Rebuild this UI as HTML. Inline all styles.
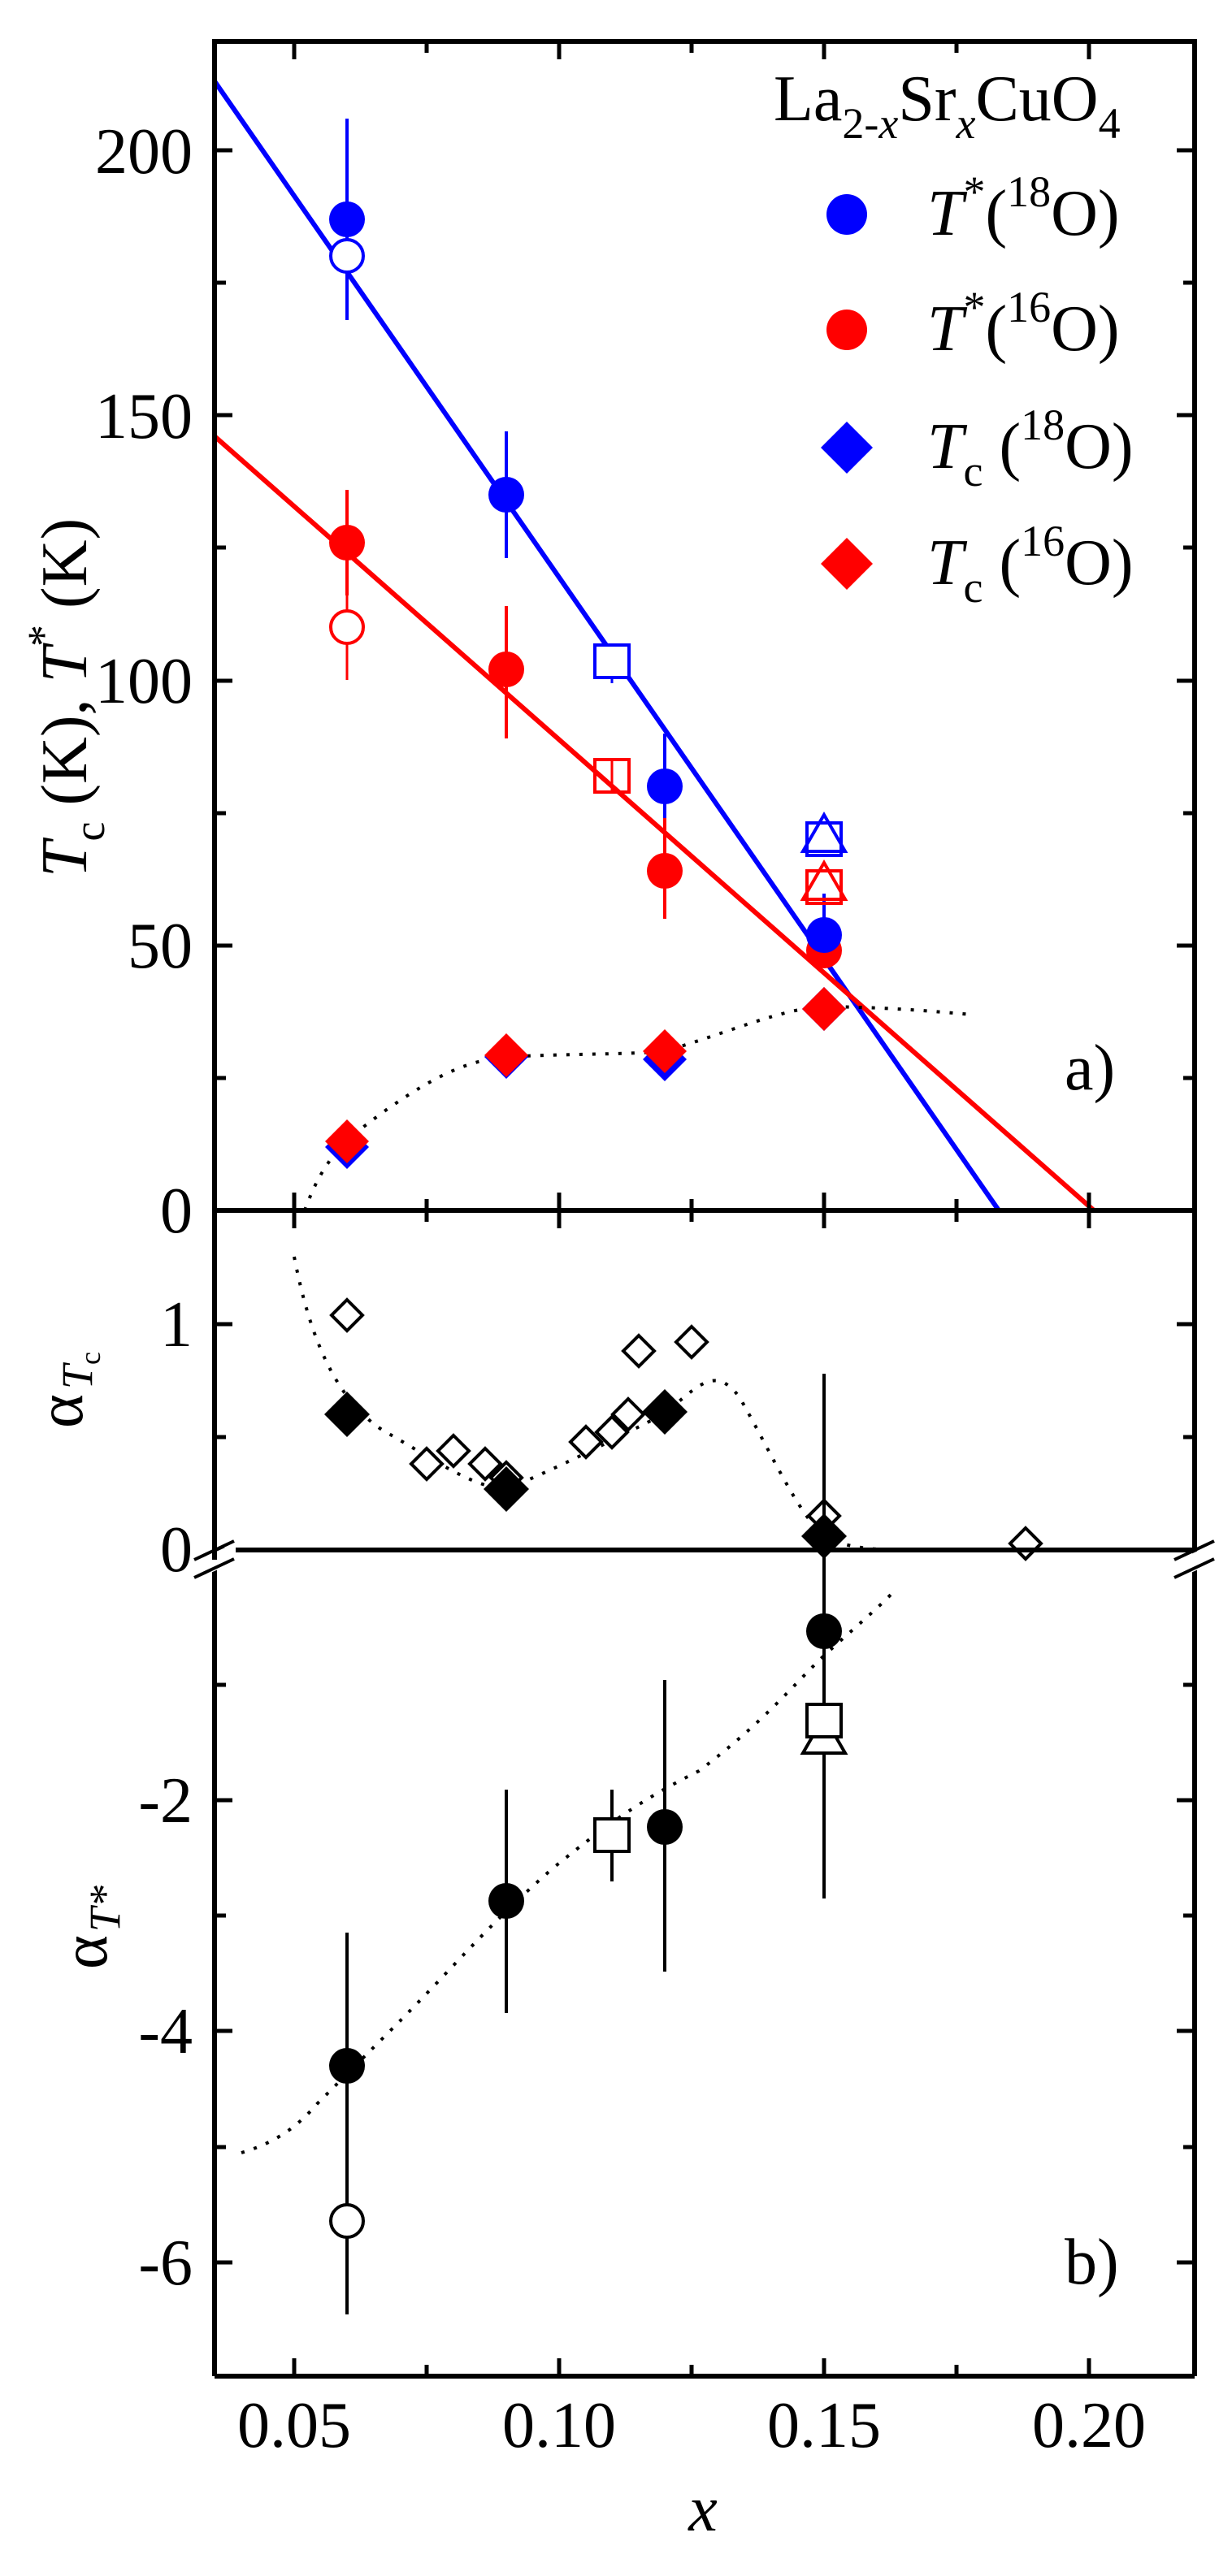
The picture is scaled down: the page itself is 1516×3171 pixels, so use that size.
<!DOCTYPE html>
<html><head><meta charset="utf-8"><style>
html,body{margin:0;padding:0;background:#fff}
svg{display:block}
text{font-family:"Liberation Serif","Times New Roman",serif;fill:#000}
</style></head><body>
<svg width="1516" height="3171" viewBox="0 0 1516 3171" xmlns="http://www.w3.org/2000/svg" font-family="Liberation Serif, Times New Roman, serif">
<defs>
<clipPath id="ca"><rect x="264" y="51" width="1206" height="1439"/></clipPath>
<clipPath id="cb"><rect x="264" y="1490" width="1206" height="418"/></clipPath>
<clipPath id="cc"><rect x="264" y="1925" width="1206" height="1000"/></clipPath>
</defs>

<!-- Panel a -->
<g clip-path="url(#ca)">
<line x1="264" y1="100" x2="1229" y2="1490" stroke="#0000ff" stroke-width="6"/>
<line x1="264" y1="537" x2="1346" y2="1490" stroke="#ff0000" stroke-width="6"/>
<path d="M375,1490 C400,1420 430,1400 470,1370 C540,1320 580,1305 623,1301 C700,1297 780,1298 818,1294 C900,1270 960,1242 1014,1239 C1100,1240 1160,1246 1197,1249" fill="none" stroke="#000" stroke-width="4" stroke-dasharray="4,12"/>
</g>
<g stroke-width="4" fill="none">
<line x1="427" y1="146" x2="427" y2="394" stroke="#0000ff"/>
<line x1="623" y1="531" x2="623" y2="687" stroke="#0000ff"/>
<line x1="818" y1="903" x2="818" y2="1040" stroke="#0000ff"/>
<line x1="427" y1="603" x2="427" y2="733" stroke="#ff0000"/>
<line x1="427" y1="733" x2="427" y2="837" stroke="#ff0000" stroke-width="3"/>
<line x1="623" y1="746" x2="623" y2="909" stroke="#ff0000"/>
<line x1="818" y1="1007" x2="818" y2="1131" stroke="#ff0000"/>
<line x1="1014" y1="1100" x2="1014" y2="1190" stroke="#0000ff"/>
</g>
<g fill="#0000ff">
<polygon points="427,1385 454,1412 427,1439 400,1412"/>
<polygon points="623,1274 650,1301 623,1328 596,1301"/>
<polygon points="818,1277 845,1304 818,1331 791,1304"/>
<polygon points="1014,1215 1041,1242 1014,1269 987,1242"/>
</g>
<g fill="#ff0000">
<polygon points="427,1378 454,1405 427,1432 400,1405"/>
<polygon points="623,1272 650,1299 623,1326 596,1299"/>
<polygon points="818,1267 845,1294 818,1321 791,1294"/>
<polygon points="1014,1215 1041,1242 1014,1269 987,1242"/>
</g>
<circle cx="427" cy="270" r="22" fill="#0000ff"/>
<circle cx="427" cy="315" r="20" fill="#fff" stroke="#0000ff" stroke-width="4"/>
<circle cx="623" cy="609" r="22" fill="#0000ff"/>
<circle cx="818" cy="968" r="22" fill="#0000ff"/>
<circle cx="427" cy="668" r="22" fill="#ff0000"/>
<circle cx="427" cy="772" r="20" fill="#fff" stroke="#ff0000" stroke-width="4"/>
<circle cx="623" cy="824" r="22" fill="#ff0000"/>
<circle cx="818" cy="1072" r="22" fill="#ff0000"/>
<circle cx="1014" cy="1170" r="22" fill="#ff0000"/>
<circle cx="1014" cy="1151" r="22" fill="#0000ff"/>
<rect x="732" y="794" width="42" height="40" fill="#fff" stroke="#0000ff" stroke-width="4"/>
<line x1="753" y1="834" x2="753" y2="841" stroke="#0000ff" stroke-width="3"/>
<rect x="732" y="935" width="42" height="40" fill="none" stroke="#ff0000" stroke-width="4"/>
<line x1="753" y1="935" x2="753" y2="975" stroke="#ff0000" stroke-width="3"/>
<rect x="993" y="1013" width="42" height="40" fill="none" stroke="#0000ff" stroke-width="4"/>
<polygon points="1014,1003 1040,1048 988,1048" fill="none" stroke="#0000ff" stroke-width="4"/>
<rect x="993" y="1072" width="42" height="40" fill="none" stroke="#ff0000" stroke-width="4"/>
<polygon points="1014,1062 1040,1107 988,1107" fill="none" stroke="#ff0000" stroke-width="4"/>

<!-- legend -->
<text x="952" y="148" font-size="80">La<tspan font-size="54" dy="22">2-</tspan><tspan font-size="54" font-style="italic">x</tspan><tspan dy="-22">Sr</tspan><tspan font-size="54" font-style="italic" dy="22">x</tspan><tspan dy="-22">CuO</tspan><tspan font-size="54" dy="22">4</tspan></text>
<circle cx="1042" cy="264" r="25" fill="#0000ff"/>
<circle cx="1042" cy="406" r="25" fill="#ff0000"/>
<polygon points="1042,519 1074,551 1042,583 1010,551" fill="#0000ff"/>
<polygon points="1042,662 1074,694 1042,726 1010,694" fill="#ff0000"/>
<text x="1141" y="289" font-size="80"><tspan font-style="italic">T</tspan><tspan font-size="54" dy="-35">*</tspan><tspan dy="35">(</tspan><tspan font-size="54" dy="-35">18</tspan><tspan dy="35">O)</tspan></text>
<text x="1141" y="431" font-size="80"><tspan font-style="italic">T</tspan><tspan font-size="54" dy="-35">*</tspan><tspan dy="35">(</tspan><tspan font-size="54" dy="-35">16</tspan><tspan dy="35">O)</tspan></text>
<text x="1141" y="576" font-size="80"><tspan font-style="italic">T</tspan><tspan font-size="54" dy="22">c</tspan><tspan dy="-22"> (</tspan><tspan font-size="54" dy="-35">18</tspan><tspan dy="35">O)</tspan></text>
<text x="1141" y="719" font-size="80"><tspan font-style="italic">T</tspan><tspan font-size="54" dy="22">c</tspan><tspan dy="-22"> (</tspan><tspan font-size="54" dy="-35">16</tspan><tspan dy="35">O)</tspan></text>
<text x="1310" y="1341" font-size="80">a)</text>

<text transform="translate(106,1080) rotate(-90)" font-size="80"><tspan font-style="italic">T</tspan><tspan font-size="54" dy="22">c</tspan><tspan dy="-22"> (K), </tspan><tspan font-style="italic">T</tspan><tspan font-size="54" dy="-35">*</tspan><tspan dy="35"> (K)</tspan></text>

<g font-size="80" text-anchor="end">
<text x="237" y="1517">0</text>
<text x="237" y="1191">50</text>
<text x="237" y="865">100</text>
<text x="237" y="539">150</text>
<text x="237" y="213">200</text>
</g>

<!-- Panel alpha Tc -->
<g clip-path="url(#cb)">
<path d="M362,1547 C380,1640 410,1720 470,1760 C540,1800 580,1830 623,1833 C680,1810 760,1770 818,1740 C860,1705 880,1680 910,1720 C950,1790 980,1860 1014,1891 C1040,1905 1070,1907 1100,1908 L1340,1908" fill="none" stroke="#000" stroke-width="4" stroke-dasharray="4,12"/>
</g>
<g fill="#fff" stroke="#000" stroke-width="4">
<polygon points="427,1600 446,1619 427,1638 408,1619"/>
<polygon points="525,1783 544,1802 525,1821 506,1802"/>
<polygon points="558,1767 577,1786 558,1805 539,1786"/>
<polygon points="597,1783 616,1802 597,1821 578,1802"/>
<polygon points="623,1800 642,1819 623,1838 604,1819"/>
<polygon points="721,1756 740,1775 721,1794 702,1775"/>
<polygon points="753,1744 772,1763 753,1782 734,1763"/>
<polygon points="773,1722 792,1741 773,1760 754,1741"/>
<polygon points="786,1644 805,1663 786,1682 767,1663"/>
<polygon points="851,1633 870,1652 851,1671 832,1652"/>
<polygon points="1014,1847 1033,1866 1014,1885 995,1866"/>
<polygon points="1262,1881 1281,1900 1262,1919 1243,1900"/>
</g>
<line x1="1014" y1="1691" x2="1014" y2="2337" stroke="#000" stroke-width="4"/>
<g fill="#000">
<polygon points="427,1713 455,1741 427,1769 399,1741"/>
<polygon points="623,1805 651,1833 623,1861 595,1833"/>
<polygon points="818,1710 846,1738 818,1766 790,1738"/>
<polygon points="1014,1863 1042,1891 1014,1919 986,1891"/>
</g>
<g font-size="80" text-anchor="end">
<text x="237" y="1934">0</text>
<text x="237" y="1657">1</text>
</g>
<text transform="translate(101,1758) rotate(-90)" font-size="80">α<tspan font-size="54" font-style="italic" dy="12" dx="6">T</tspan><tspan font-size="36" dy="10">c</tspan></text>

<!-- Panel b -->
<g clip-path="url(#cc)">
<path d="M297,2650 C330,2640 360,2625 390,2590 C420,2560 440,2540 480,2500 C560,2420 600,2370 680,2300 C760,2235 800,2210 860,2180 C940,2120 980,2070 1014,2038 C1050,2005 1080,1980 1099,1960" fill="none" stroke="#000" stroke-width="4" stroke-dasharray="4,12"/>
</g>
<g stroke="#000" stroke-width="4">
<line x1="427" y1="2379" x2="427" y2="2849"/>
<line x1="623" y1="2203" x2="623" y2="2478"/>
<line x1="753" y1="2203" x2="753" y2="2316"/>
<line x1="818" y1="2068" x2="818" y2="2427"/>
</g>
<circle cx="427" cy="2734" r="20" fill="#fff" stroke="#000" stroke-width="4"/>
<circle cx="427" cy="2543" r="22" fill="#000"/>
<circle cx="623" cy="2340" r="22" fill="#000"/>
<circle cx="818" cy="2249" r="22" fill="#000"/>
<circle cx="1014" cy="2008" r="22" fill="#000"/>
<rect x="732" y="2239" width="42" height="40" fill="#fff" stroke="#000" stroke-width="4"/>
<polygon points="1014,2113 1040,2158 988,2158" fill="#fff" stroke="#000" stroke-width="4"/>
<rect x="993" y="2098" width="42" height="40" fill="#fff" stroke="#000" stroke-width="4"/>
<g font-size="80" text-anchor="end">
<text x="237" y="2243">-2</text>
<text x="237" y="2527">-4</text>
<text x="237" y="2812">-6</text>
</g>
<text transform="translate(131,2424) rotate(-90)" font-size="80">α<tspan font-size="54" font-style="italic" dy="16" dx="4">T*</tspan></text>
<text x="1310" y="2811" font-size="80">b)</text>

<g font-size="80" text-anchor="middle">
<text x="362" y="3012">0.05</text>
<text x="688" y="3012">0.10</text>
<text x="1014" y="3012">0.15</text>
<text x="1340" y="3012">0.20</text>
</g>
<text x="865" y="3115" font-size="80" font-style="italic" text-anchor="middle">x</text>

<g stroke="#000" stroke-width="6" fill="none">
<rect x="264" y="51" width="1206" height="1439"/>
<line x1="264" y1="1490" x2="264" y2="2925"/>
<line x1="1470" y1="1490" x2="1470" y2="2925"/>
<line x1="264" y1="2925" x2="1470" y2="2925"/>
<line x1="264" y1="1908" x2="1470" y2="1908"/>
</g>
<polygon points="240,1922 290,1899 290,1922 240,1945" fill="#fff"/>
<polygon points="1446,1922 1496,1899 1496,1922 1446,1945" fill="#fff"/>
<g stroke="#000" stroke-width="4">
<line x1="239" y1="1920" x2="288" y2="1897"/>
<line x1="239" y1="1942" x2="288" y2="1919"/>
<line x1="1445" y1="1920" x2="1494" y2="1897"/>
<line x1="1445" y1="1942" x2="1494" y2="1919"/>
</g>
<line x1="264" y1="1908" x2="264" y2="1920" stroke="#000" stroke-width="6"/>

<g stroke="#000" stroke-width="5">
<path d="M362,51v22M525,51v14M688,51v22M851,51v14M1014,51v22M1177,51v14M1340,51v22"/>
<path d="M362,1490v-22M525,1490v-14M688,1490v-22M851,1490v-14M1014,1490v-22M1177,1490v-14M1340,1490v-22"/>
<path d="M362,1490v22M525,1490v14M688,1490v22M851,1490v14M1014,1490v22M1177,1490v14M1340,1490v22"/>
<path d="M362,2925v-22M525,2925v-14M688,2925v-22M851,2925v-14M1014,2925v-22M1177,2925v-14M1340,2925v-22"/>
<path d="M264,1327h14M264,1164h22M264,1001h14M264,838h22M264,674h14M264,511h22M264,348h14M264,185h22"/>
<path d="M1470,1327h-14M1470,1164h-22M1470,1001h-14M1470,838h-22M1470,674h-14M1470,511h-22M1470,348h-14M1470,185h-22"/>
<path d="M264,1769h14M264,1630h22M1470,1769h-14M1470,1630h-22"/>
<path d="M264,2074h14M264,2216h22M264,2358h14M264,2500h22M264,2643h14M264,2785h22"/>
<path d="M1470,2074h-14M1470,2216h-22M1470,2358h-14M1470,2500h-22M1470,2643h-14M1470,2785h-22"/>
</g>
</svg>
</body></html>
